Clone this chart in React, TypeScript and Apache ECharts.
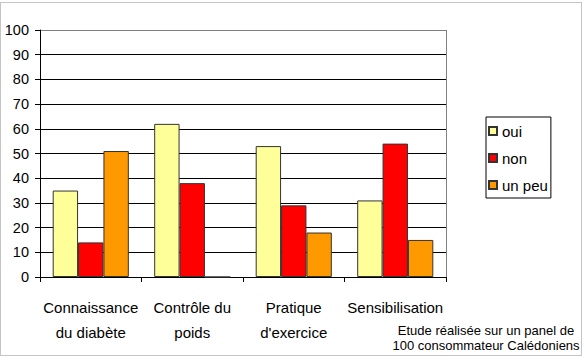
import React, { useEffect, useRef } from "react";
import * as echarts from "echarts";

const categories = ["Connaissance\ndu diabète", "Contrôle du\npoids", "Pratique\nd'exercice", "Sensibilisation"];
const seriesNames = ["oui", "non", "un peu"];
const ouiValues = [35, 62, 53, 31];
const nonValues = [14, 38, 29, 54];
const unPeuValues = [51, 0, 18, 15];
const seriesColors = ["#FFFF99", "#FF0000", "#FF9900"];
const footnoteLines = ["Etude réalisée sur un panel de", "100 consommateur Calédoniens"];

const FONT = "'Liberation Sans', Arial, sans-serif";

export default function App() {
  const ref = useRef<HTMLDivElement>(null);
  useEffect(() => {
    if (!ref.current) return;
    const chart = echarts.init(ref.current, null, { renderer: "svg" });
    const values = [ouiValues, nonValues, unPeuValues];
    const splitColors = ["#000", "#000", "#000", "#000", "#000", "#000", "#000", "#000", "#000", "#000", "#808080"];
    chart.setOption({
      animation: false,
      backgroundColor: "#fff",
      grid: { left: 40, right: 137, top: 30, bottom: 81 },
      legend: {
        orient: "vertical",
        left: 486,
        top: 117,
        data: seriesNames,
        icon: "rect",
        itemWidth: 8,
        itemHeight: 8,
        itemGap: 7,
        padding: [4, 3, 3, 2],
        borderColor: "#000",
        borderWidth: 1,
        textStyle: { fontFamily: FONT, fontSize: 15, color: "#000", lineHeight: 20 },
      },
      xAxis: {
        type: "category",
        data: categories,
        axisLine: { show: true, lineStyle: { color: "#000", width: 1 } },
        axisTick: { show: true, length: 5, lineStyle: { color: "#000" } },
        axisLabel: {
          fontFamily: FONT,
          fontSize: 15,
          lineHeight: 25,
          color: "#000",
          margin: 18,
          interval: 0,
        },
      },
      yAxis: {
        type: "value",
        min: 0,
        max: 100,
        interval: 10,
        axisLine: { show: true, lineStyle: { color: "#000", width: 1 } },
        axisTick: { show: true, length: 5, lineStyle: { color: "#000" } },
        axisLabel: { fontFamily: FONT, fontSize: 14.5, color: "#000", margin: 11 },
        splitLine: { show: true, lineStyle: { color: splitColors, width: 1 } },
      },
      series: seriesNames.map((name, i) => ({
        name,
        type: "bar",
        data: values[i],
        barGap: "0%",
        barCategoryGap: "25%",
        itemStyle: { color: seriesColors[i], borderColor: "#333", borderWidth: 1 },
      })),
      graphic: [
        {
          type: "line",
          shape: { x1: 446.5, y1: 30, x2: 446.5, y2: 277 },
          style: { stroke: "#808080", lineWidth: 1 },
        },
        {
          type: "text",
          x: 486,
          y: 330,
          style: {
            text: footnoteLines[0],
            fontFamily: FONT,
            fontSize: 13,
            fill: "#000",
            textAlign: "center",
            textVerticalAlign: "middle",
          },
        },
        {
          type: "text",
          x: 486,
          y: 345,
          style: {
            text: footnoteLines[1],
            fontFamily: FONT,
            fontSize: 13,
            fill: "#000",
            textAlign: "center",
            textVerticalAlign: "middle",
          },
        },
        {
          type: "rect",
          shape: { x: 0.5, y: 2.5, width: 581, height: 353 },
          style: { fill: "none", stroke: "#888", lineWidth: 1, lineDash: [1, 1] },
          silent: true,
        },
      ],
    });
    return () => chart.dispose();
  }, []);
  return <div ref={ref} style={{ position: "fixed", left: 0, top: 0, width: 583, height: 358 }} />;
}
